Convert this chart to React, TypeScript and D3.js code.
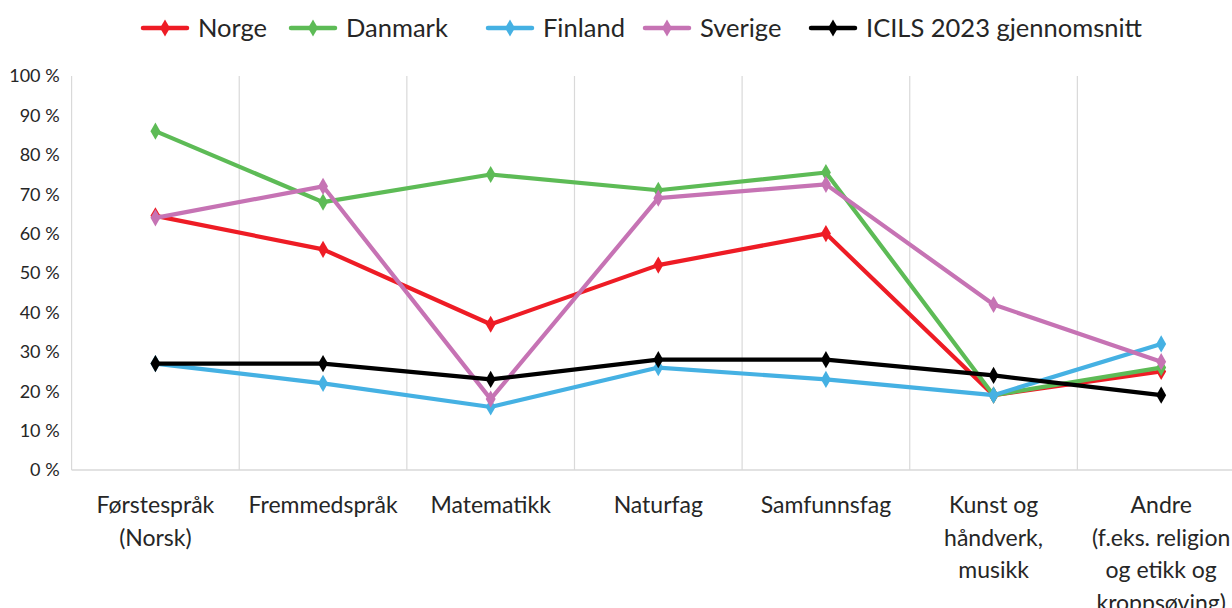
import React from "react"
import * as d3 from "d3"

const categories = [
  ["Førstespråk", "(Norsk)"],
  ["Fremmedspråk"],
  ["Matematikk"],
  ["Naturfag"],
  ["Samfunnsfag"],
  ["Kunst og", "håndverk,", "musikk"],
  ["Andre", "(f.eks. religion", "og etikk og", "kroppsøving)"],
]

const norge = [64.5, 56, 37, 52, 60, 19, 25]
const danmark = [86, 68, 75, 71, 75.5, 19, 26]
const finland = [27, 22, 16, 26, 23, 19, 32]
const sverige = [64, 72, 18, 69, 72.5, 42, 27.5]
const icils = [27, 27, 23, 28, 28, 24, 19]

const yTicks = [0, 10, 20, 30, 40, 50, 60, 70, 80, 90, 100]

const series = [
  { name: "Norge", values: norge, color: "#ee1c25" },
  { name: "Danmark", values: danmark, color: "#5dbb56" },
  { name: "Finland", values: finland, color: "#45b1e3" },
  { name: "Sverige", values: sverige, color: "#c673b4" },
  { name: "ICILS 2023 gjennomsnitt", values: icils, color: "#000000" },
]

// legend item left edges (line start)
const legendX = [143, 291, 488, 645, 811]

const W = 1232
const H = 608
const left = 71.6
const right = 1245
const top = 76
const bottom = 470
const font = "Lato, 'Open Sans', sans-serif"

export default function App() {
  const x = d3
    .scaleBand()
    .domain(categories.map((c, i) => String(i)))
    .range([left, right])
  const y = d3.scaleLinear().domain([0, 100]).range([bottom, top])
  const cx = (i: number) => (x(String(i)) as number) + x.bandwidth() / 2

  const line = d3
    .line<number>()
    .x((d, i) => cx(i))
    .y(d => y(d))

  const diamond = d3.symbol().type(d3.symbolDiamond).size(85)()

  return (
    <svg width={W} height={H} style={{ position: "absolute", left: 0, top: 0 }}>
      <rect width={W} height={H} fill="#fff" />
      {/* vertical gridlines at band edges */}
      {categories.map((c, i) => {
        const gx = x(String(i)) as number
        return (
          <line key={i} x1={gx} x2={gx} y1={top} y2={bottom} stroke="#d9d9d9" strokeWidth={1.2} />
        )
      })}
      <line x1={left} x2={right} y1={bottom} y2={bottom} stroke="#d9d9d9" strokeWidth={1.5} />

      {yTicks.map(t => (
        <text
          key={t}
          x={left - 12}
          y={y(t)}
          dy="0.35em"
          textAnchor="end"
          fontFamily={font}
          fontSize={18}
          fill="#262626"
        >
          {t} %
        </text>
      ))}

      {categories.map((lines, i) => (
        <text key={i} textAnchor="middle" fontFamily={font} fontSize={23} fill="#262626">
          {lines.map((l, j) => (
            <tspan key={j} x={cx(i)} y={513 + j * 32.5}>
              {l}
            </tspan>
          ))}
        </text>
      ))}

      {series.map(s => (
        <g key={s.name}>
          <path d={line(s.values) || ""} fill="none" stroke={s.color} strokeWidth={4.2} strokeLinejoin="round" />
          {s.values.map((v, i) => (
            <path key={i} d={diamond || ""} transform={`translate(${cx(i)},${y(v)})`} fill={s.color} />
          ))}
        </g>
      ))}

      {series.map((s, i) => (
        <g key={s.name} transform={`translate(${legendX[i]},28)`}>
          <line x1={0} x2={44} y1={0} y2={0} stroke={s.color} strokeWidth={4.5} strokeLinecap="round" />
          <path d={diamond || ""} transform="translate(22,0)" fill={s.color} />
          <text x={55} dy="0.35em" fontFamily={font} fontSize={25.5} fill="#262626">
            {s.name}
          </text>
        </g>
      ))}
    </svg>
  )
}
